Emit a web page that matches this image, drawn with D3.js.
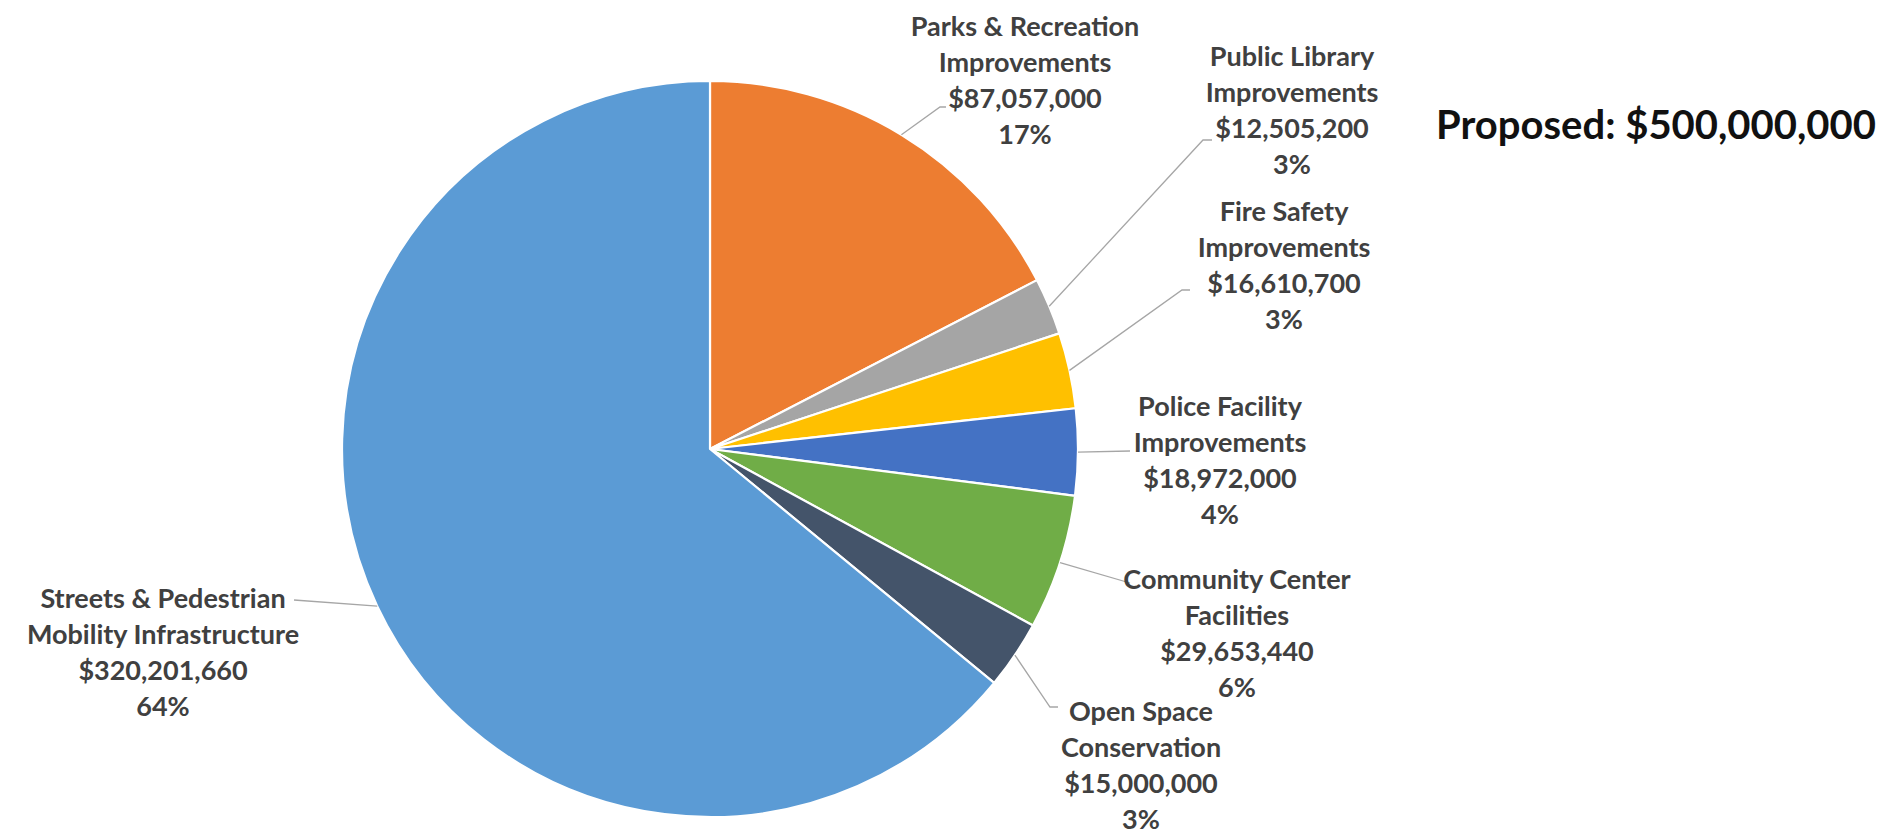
<!DOCTYPE html>
<html>
<head>
<meta charset="utf-8">
<script src="https://cdn.jsdelivr.net/npm/d3@7"></script>
<style>
  html, body { margin: 0; padding: 0; background: #ffffff; }
  svg { display: block; }
  text { font-family: Lato, "Open Sans", sans-serif; font-weight: 700; }
</style>
</head>
<body>
<svg id="chart" width="1893" height="835"></svg>
<script>
// ---- data ----
const categories = [
  ["Parks & Recreation", "Improvements"],
  ["Public Library", "Improvements"],
  ["Fire Safety", "Improvements"],
  ["Police Facility", "Improvements"],
  ["Community Center", "Facilities"],
  ["Open Space", "Conservation"],
  ["Streets & Pedestrian", "Mobility Infrastructure"]
];
const values = [87057000, 12505200, 16610700, 18972000, 29653440, 15000000, 320201660];
const colors = ["#ED7D31", "#A5A5A5", "#FFC000", "#4472C4", "#70AD47", "#44546A", "#5B9BD5"];
const titleText = "Proposed: $500,000,000";

// ---- layout (annotation placement) ----
const cx = 710, cy = 449, R = 368;
const labelPos = [
  [1025, 25], [1292, 55], [1284, 210], [1220, 405], [1237, 578], [1141, 710], [163, 597]
];
const leaderPts = [
  [[940, 107], [946, 107]],
  [[1203, 140], [1212, 140]],
  [[1182, 290], [1190, 290]],
  [[1130, 451]],
  [[1130, 583]],
  [[1050, 707], [1058, 707]],
  [[294, 600]]
];
const lineGap = 36;

const svg = d3.select("#chart");
const g = svg.append("g").attr("transform", `translate(${cx},${cy})`);

const total = d3.sum(values);
const pie = d3.pie().sort(null).value(d => d)(values);
const arc = d3.arc().innerRadius(0).outerRadius(R);

g.selectAll("path.slice")
  .data(pie)
  .join("path")
  .attr("class", "slice")
  .attr("d", arc)
  .attr("fill", (d, i) => colors[i])
  .attr("stroke", "#ffffff")
  .attr("stroke-width", 2.2)
  .attr("stroke-linejoin", "round");

// leader lines
const line = d3.line();
pie.forEach((d, i) => {
  const a = (d.startAngle + d.endAngle) / 2;
  const start = [cx + R * Math.sin(a), cy - R * Math.cos(a)];
  svg.append("path")
    .attr("d", line([start, ...leaderPts[i]]))
    .attr("fill", "none")
    .attr("stroke", "#A6A6A6")
    .attr("stroke-width", 1.3);
});

// labels
const fmtMoney = v => "$" + d3.format(",")(v);
const fmtPct = v => Math.round(v / total * 100 + 1e-9) + "%";
categories.forEach((c, i) => {
  const lines = [c[0], c[1], fmtMoney(values[i]), fmtPct(values[i])];
  const t = svg.append("text")
    .attr("text-anchor", "middle")
    .attr("fill", "#404040")
    .attr("font-size", 27);
  lines.forEach((s, k) => {
    t.append("tspan")
      .attr("x", labelPos[i][0])
      .attr("y", labelPos[i][1] + k * lineGap)
      .attr("dominant-baseline", "central")
      .text(s);
  });
});

// title
svg.append("text")
  .attr("x", 1656)
  .attr("y", 124)
  .attr("text-anchor", "middle")
  .attr("dominant-baseline", "central")
  .attr("font-size", 40)
  .attr("fill", "#111111")
  .text(titleText);
</script>
</body>
</html>
